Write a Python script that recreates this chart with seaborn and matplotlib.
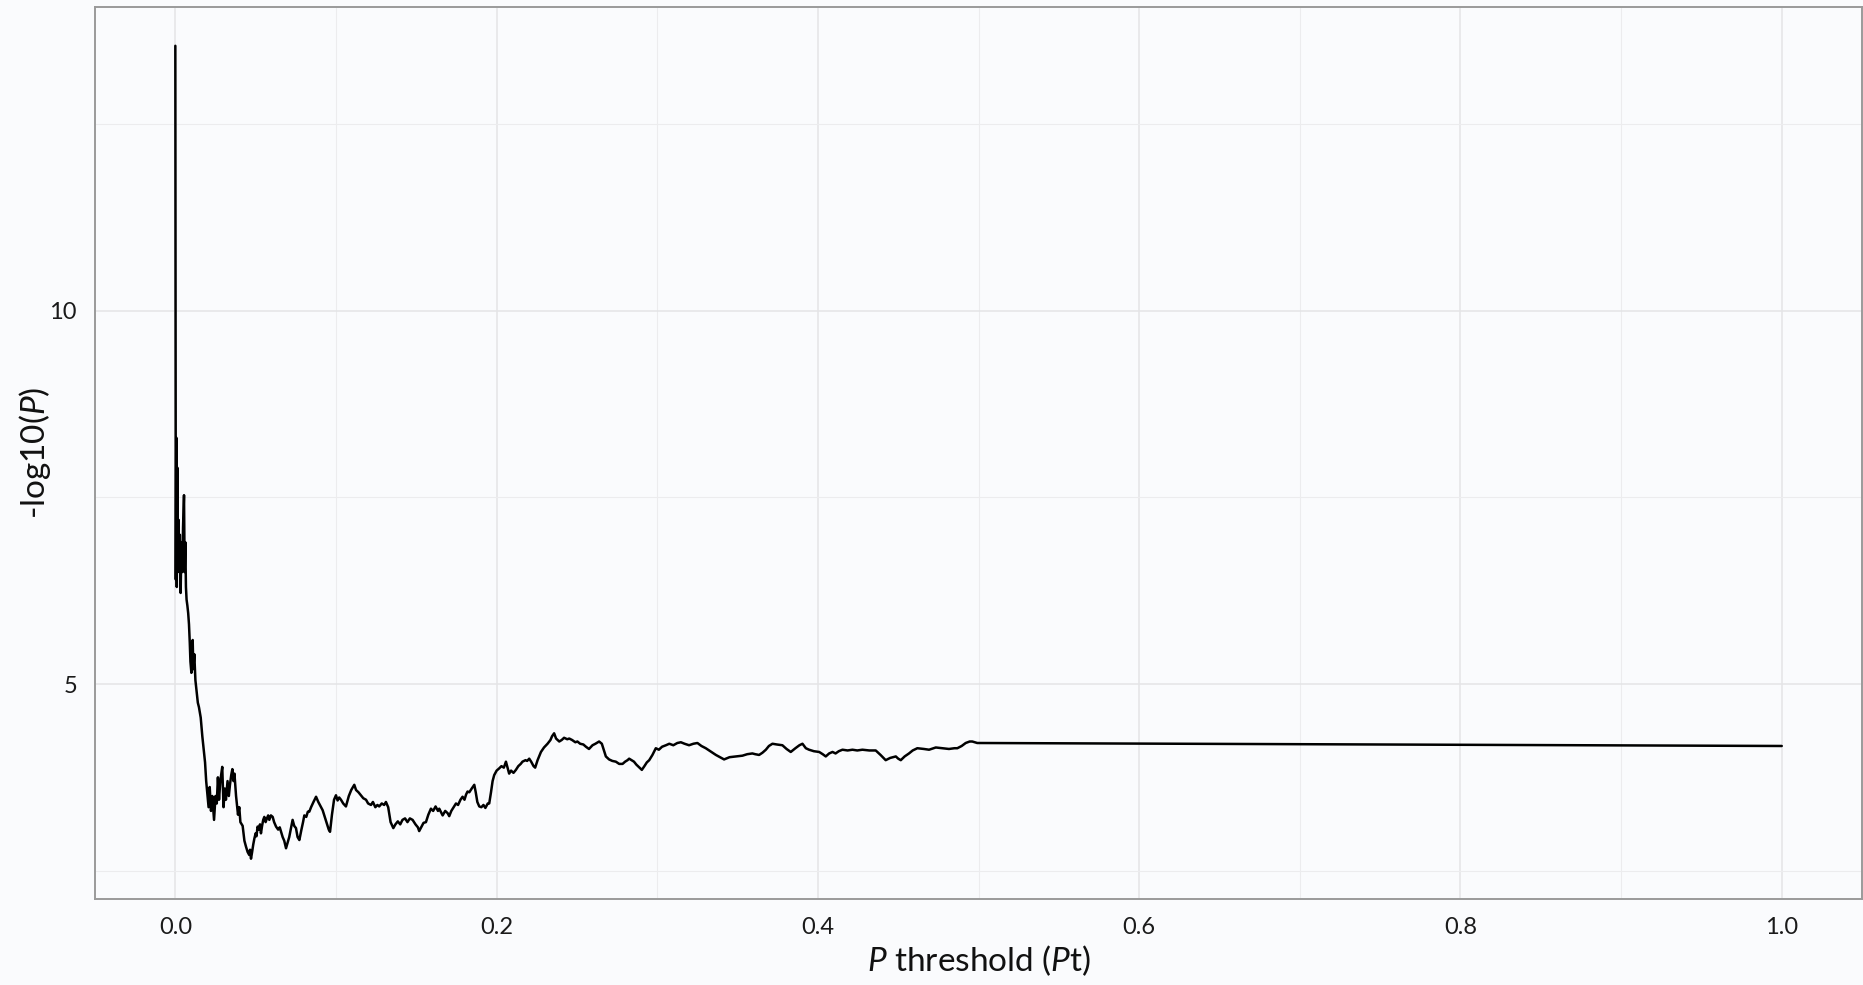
import matplotlib
matplotlib.use("Agg")
import matplotlib.pyplot as plt
from matplotlib.ticker import MultipleLocator, FixedLocator
import seaborn as sns
import pandas as pd

# P-value thresholds and the association strength of the score built at each
threshold = [
    0.0000, 0.0003, 0.0006, 0.0009, 0.0012, 0.0016, 0.0020, 0.0024, 0.0028, 0.0033,
    0.0038, 0.0043, 0.0048, 0.0054, 0.0058, 0.0062, 0.0066, 0.0070, 0.0075, 0.0080,
    0.0085, 0.0090, 0.0094, 0.0100, 0.0108, 0.0112, 0.0118, 0.0125, 0.0130, 0.0140,
    0.0147, 0.0158, 0.0168, 0.0178, 0.0185, 0.0192, 0.0199, 0.0207, 0.0214, 0.0222,
    0.0230, 0.0241, 0.0250, 0.0258, 0.0265, 0.0272, 0.0280, 0.0292, 0.0300, 0.0308,
    0.0315, 0.0325, 0.0333, 0.0340, 0.0348, 0.0355, 0.0362, 0.0368, 0.0378, 0.0390,
    0.0398, 0.0405, 0.0419, 0.0430, 0.0440, 0.0450, 0.0460, 0.0465, 0.0471, 0.0478,
    0.0485, 0.0492, 0.0500, 0.0505, 0.0512, 0.0520, 0.0527, 0.0533, 0.0540, 0.0547,
    0.0554, 0.0562, 0.0570, 0.0578, 0.0585, 0.0595, 0.0606, 0.0615, 0.0627, 0.0640,
    0.0650, 0.0658, 0.0668, 0.0678, 0.0689, 0.0700, 0.0709, 0.0718, 0.0730, 0.0740,
    0.0751, 0.0761, 0.0772, 0.0785, 0.0795, 0.0803, 0.0815, 0.0825, 0.0834, 0.0845,
    0.0860, 0.0876, 0.0890, 0.0905, 0.0917, 0.0930, 0.0945, 0.0955, 0.0963, 0.0975,
    0.0988, 0.1000, 0.1010, 0.1020, 0.1031, 0.1045, 0.1062, 0.1080, 0.1095, 0.1114,
    0.1125, 0.1140, 0.1155, 0.1170, 0.1187, 0.1200, 0.1218, 0.1230, 0.1245, 0.1258,
    0.1269, 0.1285, 0.1300, 0.1311, 0.1325, 0.1340, 0.1357, 0.1370, 0.1385, 0.1400,
    0.1414, 0.1430, 0.1445, 0.1460, 0.1477, 0.1495, 0.1510, 0.1518, 0.1530, 0.1545,
    0.1560, 0.1575, 0.1591, 0.1605, 0.1620, 0.1635, 0.1643, 0.1655, 0.1664, 0.1680,
    0.1695, 0.1705, 0.1718, 0.1735, 0.1747, 0.1760, 0.1775, 0.1788, 0.1800, 0.1810,
    0.1819, 0.1830, 0.1845, 0.1861, 0.1870, 0.1880, 0.1892, 0.1905, 0.1918, 0.1930,
    0.1945, 0.1954, 0.1965, 0.1975, 0.1985, 0.2000, 0.2016, 0.2030, 0.2045, 0.2058,
    0.2068, 0.2078, 0.2090, 0.2105, 0.2120, 0.2135, 0.2150, 0.2161, 0.2180, 0.2190,
    0.2203, 0.2215, 0.2230, 0.2240, 0.2255, 0.2276, 0.2295, 0.2317, 0.2335, 0.2345,
    0.2358, 0.2370, 0.2390, 0.2405, 0.2420, 0.2440, 0.2452, 0.2470, 0.2490, 0.2503,
    0.2520, 0.2540, 0.2556, 0.2575, 0.2597, 0.2615, 0.2638, 0.2655, 0.2670, 0.2680,
    0.2700, 0.2720, 0.2742, 0.2763, 0.2784, 0.2800, 0.2815, 0.2825, 0.2840, 0.2855,
    0.2870, 0.2885, 0.2904, 0.2920, 0.2935, 0.2950, 0.2970, 0.2991, 0.3010, 0.3030,
    0.3054, 0.3075, 0.3100, 0.3125, 0.3147, 0.3170, 0.3198, 0.3225, 0.3250, 0.3275,
    0.3302, 0.3330, 0.3365, 0.3390, 0.3416, 0.3450, 0.3489, 0.3530, 0.3560, 0.3592,
    0.3610, 0.3634, 0.3655, 0.3676, 0.3695, 0.3717, 0.3745, 0.3779, 0.3805, 0.3831,
    0.3860, 0.3885, 0.3904, 0.3925, 0.3945, 0.3975, 0.4008, 0.4030, 0.4049, 0.4070,
    0.4091, 0.4110, 0.4130, 0.4153, 0.4185, 0.4215, 0.4245, 0.4277, 0.4320, 0.4360,
    0.4390, 0.4422, 0.4450, 0.4485, 0.4500, 0.4516, 0.4540, 0.4567, 0.4590, 0.4619,
    0.4660, 0.4692, 0.4734, 0.4775, 0.4816, 0.4850, 0.4868, 0.4895, 0.4920, 0.4945,
    0.4961, 0.4992, 1.0000,
]
neg_log10_p = [
    13.55, 6.40, 8.30, 6.30, 7.90, 6.50, 7.20, 6.60, 7.00, 6.22,
    6.90, 6.50, 7.10, 7.53, 6.50, 6.90, 6.30, 6.13, 6.05, 5.95,
    5.80, 5.55, 5.30, 5.15, 5.59, 5.20, 5.40, 5.05, 4.95, 4.75,
    4.69, 4.55, 4.30, 4.10, 3.95, 3.70, 3.54, 3.35, 3.62, 3.30,
    3.50, 3.18, 3.50, 3.40, 3.75, 3.45, 3.70, 3.89, 3.35, 3.60,
    3.45, 3.70, 3.50, 3.65, 3.78, 3.86, 3.70, 3.80, 3.50, 3.25,
    3.35, 3.15, 3.10, 2.90, 2.82, 2.75, 2.71, 2.78, 2.66, 2.75,
    2.85, 2.93, 3.00, 2.96, 3.09, 3.05, 3.12, 3.00, 3.10, 3.18,
    3.22, 3.15, 3.20, 3.24, 3.18, 3.24, 3.22, 3.15, 3.09, 3.05,
    3.08, 3.02, 2.95, 2.90, 2.80, 2.88, 2.95, 3.05, 3.18, 3.10,
    3.07, 2.95, 2.91, 3.05, 3.15, 3.24, 3.22, 3.29, 3.29, 3.35,
    3.42, 3.49, 3.42, 3.36, 3.31, 3.22, 3.12, 3.05, 3.02, 3.25,
    3.45, 3.51, 3.44, 3.48, 3.45, 3.40, 3.36, 3.50, 3.58, 3.65,
    3.58, 3.55, 3.51, 3.47, 3.45, 3.40, 3.38, 3.42, 3.35, 3.38,
    3.36, 3.40, 3.38, 3.42, 3.35, 3.15, 3.07, 3.12, 3.16, 3.12,
    3.18, 3.20, 3.15, 3.20, 3.18, 3.12, 3.08, 3.03, 3.08, 3.14,
    3.15, 3.25, 3.33, 3.30, 3.36, 3.30, 3.33, 3.28, 3.24, 3.30,
    3.27, 3.23, 3.30, 3.36, 3.40, 3.38, 3.45, 3.49, 3.45, 3.52,
    3.56, 3.55, 3.60, 3.65, 3.55, 3.42, 3.36, 3.35, 3.38, 3.34,
    3.40, 3.40, 3.55, 3.70, 3.78, 3.84, 3.87, 3.90, 3.88, 3.96,
    3.88, 3.80, 3.84, 3.81, 3.85, 3.90, 3.93, 3.96, 3.98, 3.97,
    4.00, 3.96, 3.90, 3.88, 3.98, 4.09, 4.15, 4.20, 4.25, 4.30,
    4.34, 4.27, 4.23, 4.25, 4.28, 4.26, 4.27, 4.25, 4.22, 4.23,
    4.20, 4.19, 4.16, 4.13, 4.18, 4.20, 4.23, 4.20, 4.10, 4.03,
    3.99, 3.97, 3.96, 3.93, 3.93, 3.96, 3.98, 4.00, 3.98, 3.96,
    3.92, 3.89, 3.85, 3.90, 3.95, 3.98, 4.05, 4.14, 4.12, 4.16,
    4.18, 4.20, 4.18, 4.21, 4.22, 4.20, 4.18, 4.20, 4.21, 4.17,
    4.14, 4.10, 4.05, 4.02, 3.99, 4.02, 4.03, 4.04, 4.06, 4.07,
    4.06, 4.05, 4.08, 4.12, 4.17, 4.20, 4.19, 4.18, 4.13, 4.09,
    4.14, 4.18, 4.20, 4.14, 4.12, 4.10, 4.09, 4.06, 4.03, 4.07,
    4.09, 4.07, 4.10, 4.12, 4.11, 4.12, 4.11, 4.12, 4.11, 4.11,
    4.05, 3.98, 4.01, 4.03, 4.00, 3.98, 4.03, 4.07, 4.11, 4.14,
    4.13, 4.12, 4.15, 4.14, 4.13, 4.14, 4.14, 4.17, 4.21, 4.23,
    4.23, 4.21, 4.17,
]
x_ticks = [0.0, 0.2, 0.4, 0.6, 0.8, 1.0]
x_tick_labels = ["0.0", "0.2", "0.4", "0.6", "0.8", "1.0"]
y_ticks = [5, 10]
y_tick_labels = ["5", "10"]

df = pd.DataFrame({"threshold": threshold, "score": neg_log10_p})

sns.set_theme(style="whitegrid")
plt.rcParams["font.family"] = ["Lato", "DejaVu Sans"]
plt.rcParams["mathtext.fontset"] = "custom"
plt.rcParams["mathtext.rm"] = "Lato"
plt.rcParams["mathtext.it"] = "Lato:italic"

bg = "#fafbfd"
fig = plt.figure(figsize=(18.63, 9.85), dpi=100, facecolor=bg)
ax = fig.add_axes([0.051, 0.0873, 0.9485, 0.9056])
ax.set_facecolor(bg)

sns.lineplot(data=df, x="threshold", y="score", ax=ax, color="black",
             linewidth=1.8, estimator=None, sort=False)

ax.set_xlim(-0.05, 1.05)
ax.set_ylim(2.12, 14.07)

ax.xaxis.set_major_locator(FixedLocator(x_ticks))
ax.set_xticklabels(x_tick_labels)
ax.yaxis.set_major_locator(FixedLocator(y_ticks))
ax.set_yticklabels(y_tick_labels)
ax.xaxis.set_minor_locator(MultipleLocator(0.1))
ax.yaxis.set_minor_locator(MultipleLocator(2.5))

ax.grid(which="major", color="#e4e4e6", linewidth=1.1)
ax.grid(which="minor", color="#ececee", linewidth=0.8)
ax.set_axisbelow(True)

ax.tick_params(axis="both", which="major", length=3, width=1, color="#8a8a8a",
               labelsize=17, labelcolor="#1a1a1a")
ax.tick_params(axis="x", which="major", pad=10)
ax.tick_params(axis="y", which="major", pad=10)
ax.tick_params(which="minor", length=0)

for side in ["left", "right", "top", "bottom"]:
    ax.spines[side].set_visible(True)
    ax.spines[side].set_color("#9a9a9a")
    ax.spines[side].set_linewidth(1.4)

ax.set_xlabel("$P$ threshold ($P$t)", fontsize=24, color="#111111", labelpad=4)
ax.set_ylabel("-log10($P$)", fontsize=24, color="#111111")
ax.yaxis.set_label_coords(-0.024, 0.5)

fig.savefig("out.png", dpi=100, facecolor=bg)
